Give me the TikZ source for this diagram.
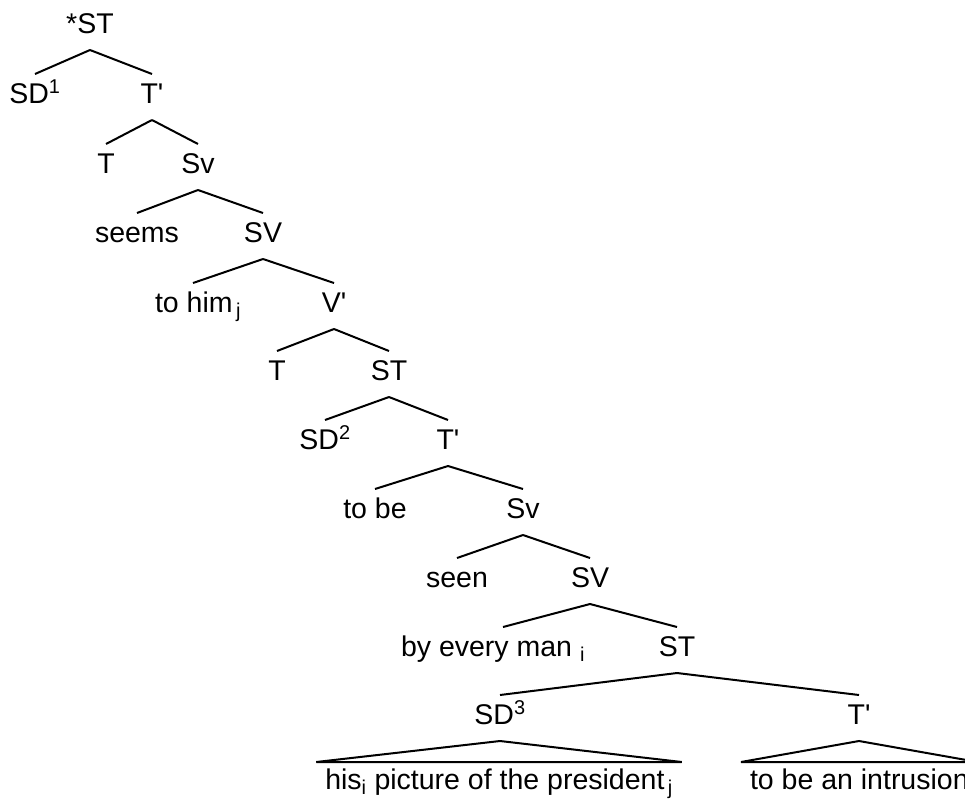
\documentclass[tikz,border=0pt]{standalone}
\usepackage{fontspec}
\setmainfont{Liberation Sans}
\usetikzlibrary{positioning}
\newcommand{\treefont}{\fontsize{28.5}{32}\selectfont}
\newcommand{\xbar}{\textquotesingle}

\begin{document}
\begin{tikzpicture}[
    x=1pt, y=-1pt,
    cat/.style={font=\treefont, anchor=base, text height=19pt, text depth=7pt,
                inner xsep=2pt, inner ysep=5pt, outer sep=5pt},
    leaf/.style={cat, inner xsep=9pt, inner ysep=8pt, outer sep=0pt},
    br/.style={line width=2pt}
  ]
  \useasboundingbox (0,0) rectangle (965,798);

  % categories, row by row
  \node[cat] (st0)   at ( 90, 33) {*ST};
  \node[cat] (sd1)   at ( 35,103) {SD\textsuperscript{1}};
  \node[cat] (tb1)   at (152,103) {T\xbar};
  \node[cat] (t1)    at (106,173) {T};
  \node[cat] (sv1)   at (198,173) {Sv};
  \node[cat] (seems) at (137,242) {seems};
  \node[cat] (vp1)   at (263,242) {SV};
  \node[cat] (tohim) at (198,312) {to him\textsubscript{\,j}};
  \node[cat] (vb)    at (334,312) {V\xbar};
  \node[cat] (t2)    at (277,380) {T};
  \node[cat] (st2)   at (389,380) {ST};
  \node[cat] (sd2)   at (325,449) {SD\textsuperscript{2}};
  \node[cat] (tb2)   at (448,449) {T\xbar};
  \node[cat] (tobe)  at (375,518) {to be};
  \node[cat] (sv2)   at (523,518) {Sv};
  \node[cat] (seen)  at (457,587) {seen};
  \node[cat] (vp2)   at (590,587) {SV};
  \node[cat] (bym)   at (493,656) {by every man \textsubscript{i}};
  \node[cat] (st3)   at (677,656) {ST};
  \node[cat] (sd3)   at (500,724) {SD\textsuperscript{3}};
  \node[cat] (tb3)   at (859,724) {T\xbar};
  \node[leaf] (lfa)  at (499,789) {his\textsubscript{i} picture of the president\textsubscript{\,j}};
  \node[leaf, anchor=base west] (lfb) at (741,789) {to be an intrusion};

  % branches
  \draw[br] (st0.south) -- (sd1.north);
  \draw[br] (st0.south) -- (tb1.north);
  \draw[br] (tb1.south) -- (t1.north);
  \draw[br] (tb1.south) -- (sv1.north);
  \draw[br] (sv1.south) -- (seems.north);
  \draw[br] (sv1.south) -- (vp1.north);
  \draw[br] (vp1.south) -- ([xshift=-5pt]tohim.north);
  \draw[br] (vp1.south) -- (vb.north);
  \draw[br] (vb.south)  -- (t2.north);
  \draw[br] (vb.south)  -- (st2.north);
  \draw[br] (st2.south) -- (sd2.north);
  \draw[br] (st2.south) -- (tb2.north);
  \draw[br] (tb2.south) -- (tobe.north);
  \draw[br] (tb2.south) -- (sv2.north);
  \draw[br] (sv2.south) -- (seen.north);
  \draw[br] (sv2.south) -- (vp2.north);
  \draw[br] (vp2.south) -- ([xshift=10pt]bym.north);
  \draw[br] (vp2.south) -- (st3.north);
  \draw[br] (st3.south) -- (sd3.north);
  \draw[br] (st3.south) -- (tb3.north);

  % triangles over the phrases
  \draw[br] (sd3.south) -- (lfa.north west) -- (lfa.north east) -- cycle;
  \draw[br] (tb3.south) -- (lfb.north west) -- (lfb.north east) -- cycle;
\end{tikzpicture}
\end{document}
